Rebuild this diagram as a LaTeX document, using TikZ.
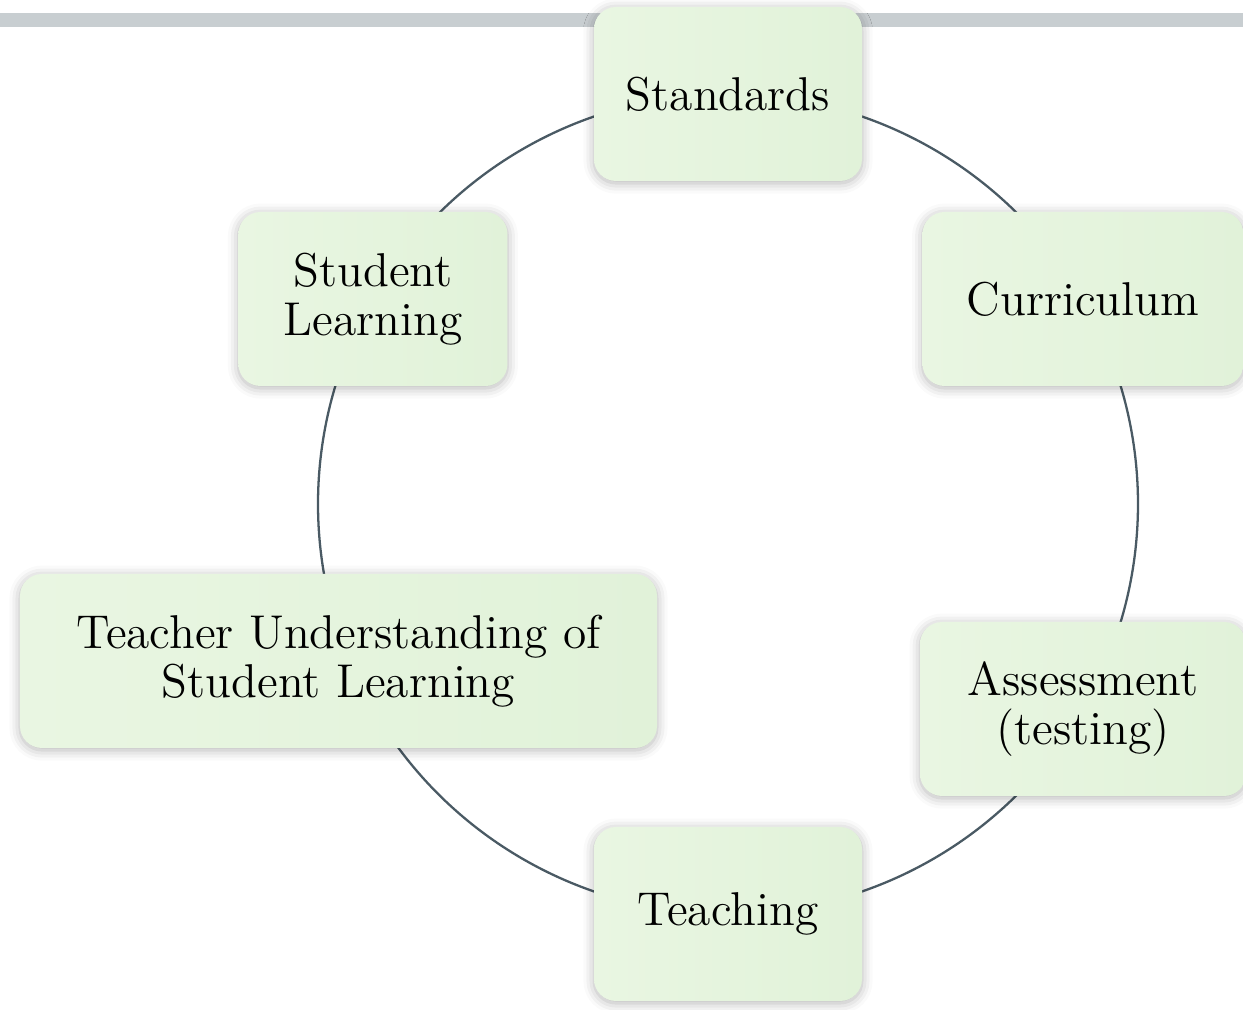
\documentclass[tikz,border=0pt]{standalone}
\usetikzlibrary{calc,backgrounds,shadows.blur}

\definecolor{boxlight}{RGB}{233,246,226}
\definecolor{boxdark}{RGB}{225,242,217}
\definecolor{ringcol}{RGB}{74,90,100}
\definecolor{barcol}{RGB}{200,206,209}

\tikzset{
  stage/.style={rectangle, rounded corners=0.22cm, left color=boxlight, right color=boxdark,
    minimum height=1.74cm, align=center, inner sep=0pt,
    font=\fontsize{13.5pt}{14pt}\selectfont,
    blur shadow={shadow xshift=0pt, shadow yshift=-0.6pt, shadow blur radius=3pt, shadow opacity=30}},
  ring/.style={ringcol, line width=0.65pt}
}

\begin{document}
\begin{tikzpicture}
\useasboundingbox (0,0) rectangle (12.43,10.10);

% Centre of the cycle
\coordinate (ctr) at (7.28,5.06);

% Stages
\node[stage, minimum width=2.68cm] (std) at ($(ctr)+(90:4.1)$) {Standards};
\node[stage, minimum width=3.21cm] (cur) at ($(ctr)+(30:4.1)$) {Curriculum};
\node[stage, minimum width=3.26cm] (asm) at ($(ctr)+(330:4.1)$) {Assessment\\(testing)};
\node[stage, minimum width=2.68cm] (tch) at ($(ctr)+(270:4.1)$) {Teaching};
\node[stage, minimum width=6.37cm] (tus) at (3.385,3.49) {Teacher Understanding of\\Student Learning};
\node[stage, minimum width=2.69cm] (stl) at ($(ctr)+(150:4.1)$) {Student\\Learning};
\coordinate (tus-r) at ($(ctr)+(210:4.1)$);

% Top bar and ring behind the stages
\begin{scope}[on background layer]
  \fill[barcol] (0,9.83) rectangle (12.43,9.97);
  \foreach \from/\ang in {std.center/90, stl.center/150, tus-r/210,
                          tch.center/270, asm.center/330, cur.center/30}
    \draw[ring] (\from) arc[start angle=\ang, delta angle=60, radius=4.1];
\end{scope}
\end{tikzpicture}
\end{document}
